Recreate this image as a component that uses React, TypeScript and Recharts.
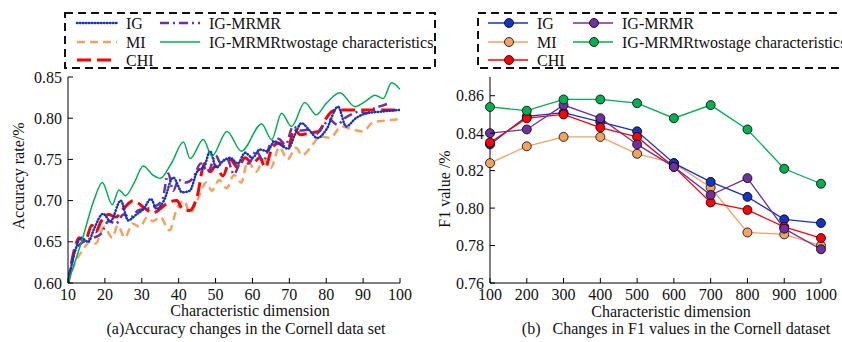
import React from 'react';
import { LineChart, Line, XAxis, YAxis } from 'recharts';

// (a) accuracy curves – readings at the crests and troughs of each curve
const igX = [10, 12, 13.5, 15.5, 17, 19.5, 21.5, 24.3, 26.3, 28.5, 30.5, 32.5, 34, 36, 38.5, 41, 43, 45, 47, 48.5, 50.2, 52, 54, 56, 58, 60, 62, 64, 66, 67.5, 69.7, 71.5, 73.3, 75.5, 77.6, 80, 83.2, 85.4, 88, 91, 95, 100];
const igY = [0.600, 0.640, 0.655, 0.650, 0.665, 0.684, 0.675, 0.700, 0.676, 0.683, 0.690, 0.702, 0.690, 0.700, 0.728, 0.710, 0.712, 0.735, 0.742, 0.760, 0.740, 0.748, 0.752, 0.745, 0.758, 0.752, 0.762, 0.760, 0.772, 0.768, 0.763, 0.780, 0.794, 0.785, 0.776, 0.786, 0.814, 0.790, 0.800, 0.806, 0.808, 0.810];

const miX = [10, 12, 14, 16, 17.5, 19.8, 22, 23.5, 25.4, 27.5, 29.5, 31.5, 33, 35, 37.5, 39.5, 41.5, 43, 45, 47.5, 49, 51, 53, 55, 57, 58.7, 61, 63, 65, 67.3, 69.5, 71.8, 73.5, 76.3, 78.3, 81, 84.2, 87.4, 90, 92.7, 96.3, 100];
const miY = [0.600, 0.625, 0.640, 0.650, 0.648, 0.668, 0.655, 0.670, 0.655, 0.672, 0.668, 0.680, 0.675, 0.680, 0.664, 0.690, 0.700, 0.685, 0.700, 0.722, 0.712, 0.725, 0.715, 0.731, 0.722, 0.748, 0.735, 0.750, 0.740, 0.765, 0.750, 0.764, 0.755, 0.768, 0.778, 0.776, 0.790, 0.786, 0.784, 0.795, 0.797, 0.799];

const chiX = [10, 12, 13, 14.5, 16.5, 17.5, 19, 21, 23, 25, 27.7, 29, 31, 33, 35, 37, 39.5, 41, 43, 45, 47, 48.5, 50, 52, 54, 56, 58, 60, 62, 63.5, 65, 67, 69.7, 71.2, 73, 75.5, 78, 80, 81.5, 83, 86, 90, 95, 100];
const chiY = [0.600, 0.645, 0.655, 0.650, 0.670, 0.662, 0.675, 0.683, 0.680, 0.690, 0.700, 0.697, 0.690, 0.685, 0.690, 0.697, 0.700, 0.690, 0.688, 0.705, 0.745, 0.735, 0.742, 0.730, 0.750, 0.740, 0.752, 0.745, 0.752, 0.740, 0.760, 0.770, 0.763, 0.787, 0.780, 0.782, 0.784, 0.800, 0.808, 0.810, 0.810, 0.810, 0.810, 0.810];

const mrmrX = [10, 12, 13.5, 15, 17, 19, 21, 23, 25, 27, 29, 31, 33, 35.5, 37.2, 38.5, 40, 42, 44, 46, 48, 50, 51.5, 53, 55, 57, 59, 61, 63, 65, 67, 69, 71, 73, 75, 77, 79, 81, 83, 85, 87, 89, 91, 93, 95, 97];
const mrmrY = [0.600, 0.640, 0.648, 0.652, 0.655, 0.660, 0.675, 0.672, 0.683, 0.680, 0.688, 0.690, 0.692, 0.700, 0.733, 0.712, 0.725, 0.722, 0.728, 0.745, 0.735, 0.755, 0.745, 0.752, 0.732, 0.748, 0.745, 0.760, 0.748, 0.770, 0.775, 0.768, 0.790, 0.785, 0.786, 0.780, 0.790, 0.798, 0.792, 0.800, 0.805, 0.808, 0.806, 0.812, 0.815, 0.818];

const twoX = [10, 14, 17, 19.3, 22, 23.8, 25.6, 28, 30.4, 33, 35, 38, 41.3, 43.1, 46.7, 49, 53.1, 57, 62.5, 65.2, 67.9, 70.6, 74.2, 77.3, 80, 83.7, 87.8, 90.5, 93.2, 95.5, 97.7, 100];
const twoY = [0.600, 0.655, 0.700, 0.722, 0.695, 0.713, 0.706, 0.722, 0.742, 0.731, 0.727, 0.745, 0.771, 0.751, 0.774, 0.754, 0.784, 0.760, 0.793, 0.774, 0.806, 0.790, 0.819, 0.804, 0.818, 0.831, 0.814, 0.820, 0.828, 0.824, 0.843, 0.835];

const accTicksX = [10, 20, 30, 40, 50, 60, 70, 80, 90, 100];
const accTicksY = [0.6, 0.65, 0.7, 0.75, 0.8, 0.85];

// (b) F1 values
const dims = [100, 200, 300, 400, 500, 600, 700, 800, 900, 1000];
const f1IG = [0.834, 0.849, 0.851, 0.846, 0.841, 0.824, 0.814, 0.806, 0.794, 0.792];
const f1MI = [0.824, 0.833, 0.838, 0.838, 0.829, 0.824, 0.811, 0.787, 0.786, 0.780];
const f1CHI = [0.835, 0.848, 0.850, 0.843, 0.838, 0.822, 0.803, 0.799, 0.790, 0.784];
const f1MRMR = [0.840, 0.842, 0.855, 0.848, 0.834, 0.822, 0.807, 0.816, 0.789, 0.778];
const f1Two = [0.854, 0.852, 0.858, 0.858, 0.856, 0.848, 0.855, 0.842, 0.821, 0.813];
const f1TicksY = [0.76, 0.78, 0.8, 0.82, 0.84, 0.86];

const FONT = '"Liberation Serif", "Times New Roman", serif';
const FS = 16;
const C_IG = '#1434c8';
const C_MI = '#f4a261';
const C_CHI = '#ff0000';
const C_MRMR = '#7030a0';
const C_TWO = '#00b050';

const pts = (xs: number[], ys: number[]) => xs.map((d, i) => ({ d, v: ys[i] }));

const f1Data = dims.map((dim, i) => ({
  dim,
  ig: f1IG[i],
  mi: f1MI[i],
  chi: f1CHI[i],
  mrmr: f1MRMR[i],
  two: f1Two[i],
}));

// ticks drawn pointing into the plot
const BottomTick = (props: any) => {
  const { x, y, payload } = props;
  const axisY = y - 4;
  return (
    <g>
      <line x1={x} x2={x} y1={axisY} y2={axisY - 5} stroke="#000" strokeWidth={1} />
      <text x={x} y={axisY + 17} textAnchor="middle" fontFamily={FONT} fontSize={FS} fill="#111">
        {payload.value}
      </text>
    </g>
  );
};

const LeftTick = (props: any) => {
  const { x, y, payload } = props;
  const axisX = x + 6;
  return (
    <g>
      <line x1={axisX} x2={axisX + 5} y1={y} y2={y} stroke="#000" strokeWidth={1} />
      <text x={x} y={y + 5.5} textAnchor="end" fontFamily={FONT} fontSize={FS} fill="#111">
        {Number(payload.value).toFixed(2)}
      </text>
    </g>
  );
};

const Legend = ({ left, width, markers }: { left: number; width: number; markers: boolean }) => {
  const items = [
    { name: 'IG', color: C_IG, dash: '0.5 2.5', w: 2.5, col: 0, row: 0 },
    { name: 'MI', color: C_MI, dash: '8 5', w: 2.5, col: 0, row: 1 },
    { name: 'CHI', color: C_CHI, dash: '14 6', w: 3, col: 0, row: 2 },
    { name: 'IG-MRMR', color: C_MRMR, dash: '9 4 2 4', w: 2.5, col: 1, row: 0 },
    { name: 'IG-MRMRtwostage characteristics', color: C_TWO, dash: undefined, w: 1.5, col: 1, row: 1 },
  ];
  const rows = [23, 42, 60];
  const colX = markers ? [488 - left, 573 - left] : [77 - 64, 160 - 64];
  return (
    <svg
      width={width}
      height={80}
      style={{ position: 'absolute', left, top: 0, overflow: 'hidden' }}
    >
      <rect x={1} y={13} width={markers ? 400 : 370} height={55} fill="none" stroke="#111" strokeWidth={2} strokeDasharray="8 5" />
      {items.map((it) => {
        const x0 = colX[it.col];
        const y = rows[it.row];
        return (
          <g key={it.name}>
            <line
              x1={x0}
              x2={x0 + 40}
              y1={y}
              y2={y}
              stroke={it.color}
              strokeWidth={markers ? 1.5 : it.w}
              strokeDasharray={markers ? undefined : it.dash}
              strokeLinecap={!markers && it.name === 'IG' ? 'round' : 'butt'}
            />
            {markers && <circle cx={x0 + 21} cy={y} r={4.5} fill={it.color} stroke="#000" strokeWidth={0.8} />}
            <text x={x0 + 49} y={y + 5.5} fontFamily={FONT} fontSize={FS} fill="#111">
              {it.name}
            </text>
          </g>
        );
      })}
    </svg>
  );
};

const textStyle: React.CSSProperties = {
  position: 'absolute',
  fontFamily: FONT,
  fontSize: FS,
  lineHeight: 1,
  color: '#111',
  whiteSpace: 'pre',
  transform: 'translate(-50%, -50%)',
};

const dotStyle = (c: string) => ({ r: 4.5, fill: c, stroke: '#000', strokeWidth: 0.8 });

export default function App() {
  return (
    <div style={{ position: 'fixed', left: 0, top: 0, width: 842, height: 342, background: '#fff', overflow: 'hidden' }}>
      <div style={{ position: 'absolute', left: 0, top: 0 }}>
        <LineChart width={420} height={342} margin={{ top: 77, right: 20, bottom: 29, left: 8 }}>
          <XAxis
            dataKey="d"
            type="number"
            domain={[10, 100]}
            ticks={accTicksX}
            height={30}
            tickSize={0}
            tickMargin={4}
            tick={BottomTick}
            axisLine={{ stroke: '#000' }}
            allowDataOverflow
          />
          <YAxis
            type="number"
            domain={[0.6, 0.85]}
            ticks={accTicksY}
            width={60}
            tickSize={0}
            tickMargin={6}
            tick={LeftTick}
            axisLine={{ stroke: '#000' }}
            allowDataOverflow
          />
          <Line data={pts(miX, miY)} dataKey="v" type="monotone" stroke={C_MI} strokeWidth={2.5} strokeDasharray="8 5" dot={false} isAnimationActive={false} />
          <Line data={pts(chiX, chiY)} dataKey="v" type="monotone" stroke={C_CHI} strokeWidth={3} strokeDasharray="14 6" dot={false} isAnimationActive={false} />
          <Line data={pts(mrmrX, mrmrY)} dataKey="v" type="monotone" stroke={C_MRMR} strokeWidth={2.5} strokeDasharray="9 4 2 4" dot={false} isAnimationActive={false} />
          <Line data={pts(igX, igY)} dataKey="v" type="monotone" stroke={C_IG} strokeWidth={2.5} strokeDasharray="0.5 2.5" strokeLinecap="round" dot={false} isAnimationActive={false} />
          <Line data={pts(twoX, twoY)} dataKey="v" type="monotone" stroke={C_TWO} strokeWidth={1.5} dot={false} isAnimationActive={false} />
        </LineChart>
      </div>

      <div style={{ position: 'absolute', left: 420, top: 0 }}>
        <LineChart width={422} height={342} data={f1Data} margin={{ top: 77, right: 21, bottom: 29, left: 10 }}>
          <XAxis
            dataKey="dim"
            type="number"
            domain={[100, 1000]}
            ticks={dims}
            height={30}
            tickSize={0}
            tickMargin={4}
            tick={BottomTick}
            axisLine={{ stroke: '#000' }}
          />
          <YAxis
            type="number"
            domain={[0.76, 0.87]}
            ticks={f1TicksY}
            width={60}
            tickSize={0}
            tickMargin={6}
            tick={LeftTick}
            axisLine={{ stroke: '#000' }}
            allowDataOverflow
          />
          <Line dataKey="mi" stroke={C_MI} strokeWidth={1.3} dot={dotStyle(C_MI)} isAnimationActive={false} />
          <Line dataKey="ig" stroke={C_IG} strokeWidth={1.3} dot={dotStyle(C_IG)} isAnimationActive={false} />
          <Line dataKey="chi" stroke={C_CHI} strokeWidth={1.3} dot={dotStyle(C_CHI)} isAnimationActive={false} />
          <Line dataKey="mrmr" stroke={C_MRMR} strokeWidth={1.3} dot={dotStyle(C_MRMR)} isAnimationActive={false} />
          <Line dataKey="two" stroke={C_TWO} strokeWidth={1.3} dot={dotStyle(C_TWO)} isAnimationActive={false} />
        </LineChart>
      </div>

      <Legend left={64} width={380} markers={false} />
      <Legend left={477} width={365} markers={true} />

      <div style={{ ...textStyle, left: 19, top: 176, transform: 'translate(-50%, -50%) rotate(-90deg)' }}>Accuracy rate/%</div>
      <div style={{ ...textStyle, left: 445, top: 189, transform: 'translate(-50%, -50%) rotate(-90deg)' }}>F1 value /%</div>

      <div style={{ ...textStyle, left: 250, top: 311 }}>Characteristic dimension</div>
      <div style={{ ...textStyle, left: 671, top: 312 }}>Characteristic dimension</div>
      <div style={{ ...textStyle, left: 246, top: 329 }}>(a)Accuracy changes in the Cornell data set</div>
      <div style={{ ...textStyle, left: 676, top: 329 }}>{'(b)   Changes in F1 values in the Cornell dataset'}</div>
    </div>
  );
}
